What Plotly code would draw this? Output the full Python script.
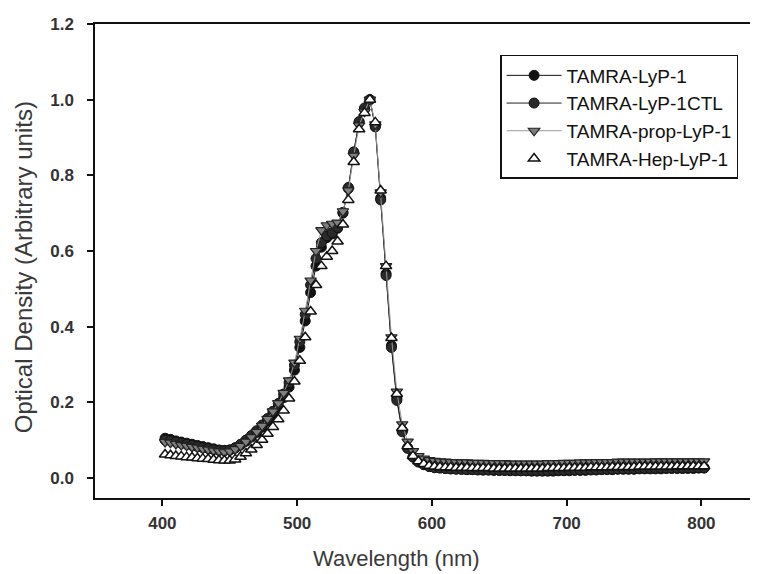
import plotly.graph_objects as go

wavelength = list(range(402, 803, 4))

lyp1 = [0.105, 0.102, 0.098, 0.095, 0.092, 0.089, 0.086, 0.083, 0.080, 0.077,
        0.074, 0.073, 0.074, 0.079, 0.087, 0.097, 0.108, 0.120, 0.134, 0.150,
        0.168, 0.188, 0.212, 0.240, 0.285, 0.345, 0.415, 0.490, 0.560, 0.610,
        0.635, 0.645, 0.660, 0.700, 0.765, 0.860, 0.940, 0.975, 1.000, 0.930,
        0.740, 0.540, 0.350, 0.210, 0.125, 0.080, 0.056, 0.043, 0.036, 0.031,
        0.028, 0.027, 0.025, 0.024, 0.024, 0.023, 0.022, 0.022, 0.021, 0.021,
        0.021, 0.020, 0.020, 0.020, 0.019, 0.019, 0.019, 0.019, 0.018, 0.018,
        0.018, 0.018, 0.018, 0.019, 0.019, 0.019, 0.020, 0.020, 0.020, 0.021,
        0.021, 0.022, 0.022, 0.022, 0.023, 0.023, 0.023, 0.023, 0.024, 0.024,
        0.024, 0.024, 0.024, 0.025, 0.025, 0.025, 0.025, 0.025, 0.025, 0.026,
        0.026]

lyp1ctl = [0.100, 0.098, 0.095, 0.092, 0.089, 0.086, 0.083, 0.080, 0.078, 0.075,
           0.073, 0.072, 0.074, 0.080, 0.089, 0.100, 0.112, 0.125, 0.140, 0.157,
           0.176, 0.197, 0.222, 0.252, 0.298, 0.360, 0.432, 0.510, 0.580, 0.622,
           0.640, 0.648, 0.662, 0.702, 0.768, 0.862, 0.942, 0.978, 1.000, 0.928,
           0.735, 0.535, 0.345, 0.205, 0.122, 0.078, 0.055, 0.042, 0.035, 0.030,
           0.027, 0.026, 0.025, 0.024, 0.023, 0.023, 0.022, 0.022, 0.022, 0.021,
           0.021, 0.021, 0.020, 0.020, 0.020, 0.020, 0.019, 0.019, 0.019, 0.019,
           0.019, 0.019, 0.020, 0.020, 0.020, 0.021, 0.021, 0.021, 0.022, 0.022,
           0.022, 0.023, 0.023, 0.023, 0.024, 0.024, 0.024, 0.024, 0.025, 0.025,
           0.025, 0.025, 0.026, 0.026, 0.026, 0.026, 0.026, 0.027, 0.027, 0.027,
           0.027]

prop_lyp1 = [0.095, 0.093, 0.090, 0.087, 0.085, 0.082, 0.080, 0.077, 0.075, 0.072,
             0.070, 0.068, 0.070, 0.076, 0.085, 0.096, 0.108, 0.122, 0.138, 0.156,
             0.176, 0.198, 0.225, 0.258, 0.305, 0.368, 0.442, 0.522, 0.600, 0.655,
             0.668, 0.672, 0.675, 0.705, 0.760, 0.852, 0.932, 0.968, 1.000, 0.935,
             0.755, 0.560, 0.372, 0.228, 0.142, 0.096, 0.071, 0.058, 0.051, 0.047,
             0.045, 0.044, 0.043, 0.042, 0.042, 0.041, 0.041, 0.040, 0.040, 0.040,
             0.039, 0.039, 0.039, 0.039, 0.038, 0.038, 0.038, 0.038, 0.038, 0.038,
             0.038, 0.039, 0.039, 0.039, 0.040, 0.040, 0.040, 0.041, 0.041, 0.041,
             0.042, 0.042, 0.042, 0.042, 0.043, 0.043, 0.043, 0.043, 0.043, 0.043,
             0.043, 0.044, 0.044, 0.044, 0.044, 0.044, 0.044, 0.044, 0.044, 0.044,
             0.044]

hep_lyp1 = [0.062, 0.060, 0.058, 0.057, 0.055, 0.054, 0.052, 0.051, 0.050, 0.048,
            0.047, 0.046, 0.046, 0.049, 0.056, 0.065, 0.075, 0.087, 0.101, 0.117,
            0.135, 0.155, 0.178, 0.210, 0.255, 0.310, 0.372, 0.440, 0.510, 0.560,
            0.585, 0.600, 0.625, 0.670, 0.735, 0.835, 0.922, 0.965, 1.000, 0.940,
            0.760, 0.560, 0.370, 0.222, 0.132, 0.084, 0.058, 0.044, 0.037, 0.032,
            0.030, 0.029, 0.028, 0.028, 0.027, 0.027, 0.027, 0.026, 0.026, 0.026,
            0.026, 0.025, 0.025, 0.025, 0.025, 0.025, 0.025, 0.025, 0.025, 0.025,
            0.025, 0.026, 0.026, 0.026, 0.026, 0.027, 0.027, 0.027, 0.027, 0.028,
            0.028, 0.028, 0.028, 0.029, 0.029, 0.029, 0.029, 0.029, 0.030, 0.030,
            0.030, 0.030, 0.030, 0.030, 0.030, 0.031, 0.031, 0.031, 0.031, 0.031,
            0.031]

series_names = ["TAMRA-LyP-1", "TAMRA-LyP-1CTL", "TAMRA-prop-LyP-1", "TAMRA-Hep-LyP-1"]

x_ticks = [400, 500, 600, 700, 800]
y_ticks = [0.0, 0.2, 0.4, 0.6, 0.8, 1.0, 1.2]
x_title = "Wavelength (nm)"
y_title = "Optical Density (Arbitrary units)"

FONT = "Liberation Sans, Arial, sans-serif"

fig = go.Figure()

fig.add_trace(go.Scatter(
    x=wavelength, y=lyp1, name=series_names[0], mode="lines+markers",
    line=dict(color="#111111", width=1),
    marker=dict(symbol="circle", size=10, color="#111111", line=dict(color="#111111", width=1)),
    legendgroup="a"))
fig.add_trace(go.Scatter(
    x=wavelength, y=lyp1ctl, name=series_names[1], mode="lines+markers",
    line=dict(color="#222222", width=1),
    marker=dict(symbol="circle", size=10, color="#2a2a2a", line=dict(color="#111111", width=1)),
    legendgroup="b"))
fig.add_trace(go.Scatter(
    x=wavelength, y=prop_lyp1, name=series_names[2], mode="lines+markers",
    line=dict(color="#9a9a9a", width=1),
    marker=dict(symbol="triangle-down", size=10, color="#7f7f7f", line=dict(color="#222222", width=1.2)),
    legendgroup="c"))
fig.add_trace(go.Scatter(
    x=wavelength, y=hep_lyp1, name=series_names[3], mode="markers",
    marker=dict(symbol="triangle-up", size=10, color="white", line=dict(color="#111111", width=1.5)),
    legendgroup="d"))

# The page body has an 8px margin, so the figure is drawn 8px in from the top-left.
fig.update_layout(
    width=750, height=566,
    margin=dict(l=87, r=0, t=16, b=76, autoexpand=False),
    paper_bgcolor="white", plot_bgcolor="white",
    font=dict(family=FONT, color="#222222", size=15),
    showlegend=True,
    legend=dict(
        x=0.611, y=0.9346, xanchor="left", yanchor="top",
        bordercolor="#111111", borderwidth=1.5, bgcolor="white",
        font=dict(family=FONT, size=19, color="#111111"),
        traceorder="grouped", tracegroupgap=0, itemwidth=55,
    ),
    annotations=[
        dict(text=x_title, xref="paper", yref="paper", x=0.454, y=-0.1266,
             xanchor="center", yanchor="middle", showarrow=False,
             font=dict(family=FONT, size=22, color="#3a3a3a")),
        dict(text=y_title, xref="paper", yref="paper", x=-0.1086, y=0.487,
             xanchor="center", yanchor="middle", showarrow=False, textangle=-90,
             font=dict(family=FONT, size=24, color="#3a3a3a")),
    ],
)

fig.update_xaxes(
    range=[350, 842], tickvals=x_ticks, ticktext=[str(v) for v in x_ticks],
    showline=True, linecolor="#111111", linewidth=1.5, mirror=True,
    ticks="outside", ticklen=6, tickcolor="#111111", tickwidth=1.5,
    showgrid=False, zeroline=False, automargin=False,
    tickfont=dict(family=FONT, size=17, color="#333333", weight="bold"),
    ticklabelstandoff=3,
)
fig.update_yaxes(
    range=[-0.053, 1.2], tickvals=y_ticks, ticktext=["%.1f" % v for v in y_ticks],
    showline=True, linecolor="#111111", linewidth=1.5, mirror=False,
    ticks="outside", ticklen=6, tickcolor="#111111", tickwidth=1.5,
    showgrid=False, zeroline=False, automargin=False,
    tickfont=dict(family=FONT, size=17, color="#333333", weight="bold"),
    ticklabelstandoff=10,
)

fig.write_html("out.html")
